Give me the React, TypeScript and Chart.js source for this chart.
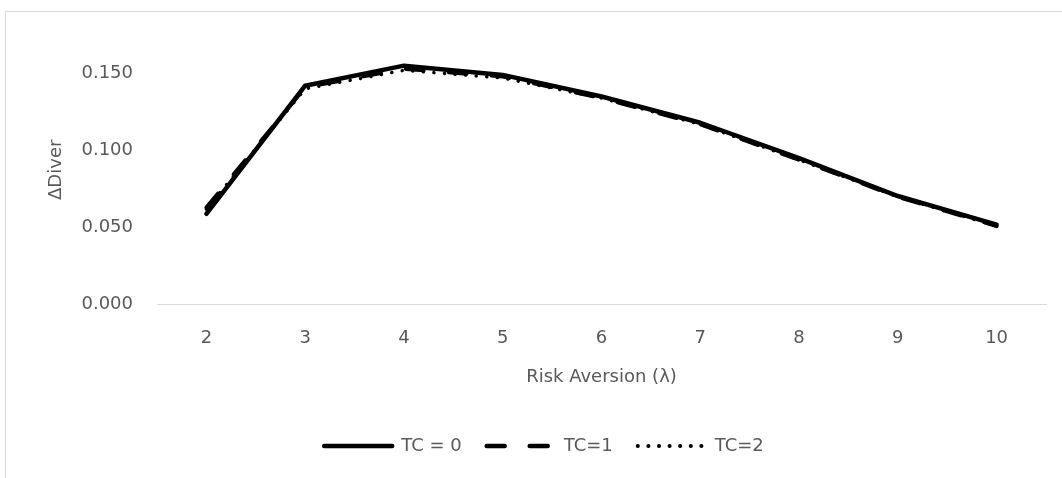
import React, { useEffect, useRef } from "react";
import { Chart, registerables } from "chart.js";

Chart.register(...registerables);

const categories = ["2", "3", "4", "5", "6", "7", "8", "9", "10"];
const tc0 = [0.059, 0.142, 0.155, 0.149, 0.135, 0.118, 0.095, 0.0705, 0.052];
const tc1 = [0.063, 0.141, 0.153, 0.148, 0.134, 0.117, 0.094, 0.070, 0.051];
const tc2 = [0.062, 0.140, 0.152, 0.147, 0.134, 0.117, 0.094, 0.070, 0.051];
const yTickValues = [0, 0.05, 0.1, 0.15];

const FONT = "'DejaVu Sans', sans-serif";
const TEXT = "#595959";
const FS = 18;

const borderPlugin = {
  id: "outerBorder",
  beforeDraw(chart: any) {
    const ctx = chart.ctx;
    ctx.save();
    ctx.strokeStyle = "#d9d9d9";
    ctx.lineWidth = 1;
    ctx.beginPath();
    ctx.moveTo(5.5, chart.height);
    ctx.lineTo(5.5, 11.5);
    ctx.lineTo(chart.width, 11.5);
    ctx.stroke();
    ctx.restore();
  },
};

export default function App() {
  const ref = useRef<HTMLCanvasElement>(null);
  useEffect(() => {
    document.body.style.margin = "0";
    const chart = new Chart(ref.current as HTMLCanvasElement, {
      type: "line",
      data: {
        labels: categories,
        datasets: [
          {
            label: "TC = 0",
            data: tc0,
            borderColor: "#000",
            backgroundColor: "#000",
            borderWidth: 4.5,
            borderCapStyle: "round",
            borderJoinStyle: "round",
            pointRadius: 0,
            tension: 0,
          },
          {
            label: "TC=1",
            data: tc1,
            borderColor: "#000",
            backgroundColor: "#000",
            borderWidth: 4,
            borderDash: [18, 25],
            borderCapStyle: "round",
            pointRadius: 0,
            tension: 0,
          },
          {
            label: "TC=2",
            data: tc2,
            borderColor: "#000",
            backgroundColor: "#000",
            borderWidth: 3.5,
            borderDash: [0.1, 10.5],
            borderCapStyle: "round",
            pointRadius: 0,
            tension: 0,
          },
        ],
      },
      options: {
        animation: false,
        responsive: false,
        layout: { padding: { left: 42, right: 16, top: 33, bottom: 13 } },
        plugins: {
          tooltip: { enabled: false },
          legend: {
            position: "bottom",
            labels: {
              usePointStyle: true,
              pointStyle: "line",
              pointStyleWidth: 68,
              boxWidth: 68,
              boxHeight: 16,
              padding: 25,
              color: TEXT,
              font: { family: FONT, size: FS },
              generateLabels: (ch: any) =>
                ch.data.datasets.map((ds: any, i: number) => ({
                  text: ds.label,
                  fillStyle: "#000",
                  strokeStyle: "#000",
                  fontColor: TEXT,
                  lineWidth: i === 2 ? 4 : 4.5,
                  lineDash: i === 0 ? [] : ds.borderDash,
                  lineCap: "round",
                  pointStyle: "line",
                  hidden: false,
                  datasetIndex: i,
                })),
            },
          },
        },
        scales: {
          x: {
            offset: true,
            grid: { display: false, drawTicks: false },
            border: { display: true, color: "#d9d9d9", width: 1 },
            ticks: { color: TEXT, font: { family: FONT, size: FS }, padding: 23 },
            title: {
              display: true,
              text: "Risk Aversion (λ)",
              color: TEXT,
              font: { family: FONT, size: FS },
              padding: { top: -6, bottom: 24 },
            },
          },
          y: {
            min: 0,
            max: 0.175,
            afterBuildTicks(scale: any) {
              scale.ticks = yTickValues.map((v) => ({ value: v }));
            },
            afterFit(scale: any) {
              scale.width = 115;
            },
            grid: { display: false, drawTicks: false },
            border: { display: false },
            ticks: {
              color: TEXT,
              font: { family: FONT, size: FS },
              padding: 24,
              callback: (v: any) => Number(v).toFixed(3),
            },
            title: {
              display: true,
              text: "ΔDiver",
              color: TEXT,
              font: { family: FONT, size: FS },
              padding: { top: 4, bottom: 0 },
            },
          },
        },
      },
      plugins: [borderPlugin],
    });
    return () => chart.destroy();
  }, []);
  return (
    <div style={{ width: 1062, height: 478, position: "relative" }}>
      <canvas ref={ref} width={1062} height={478} style={{ display: "block" }} />
    </div>
  );
}
